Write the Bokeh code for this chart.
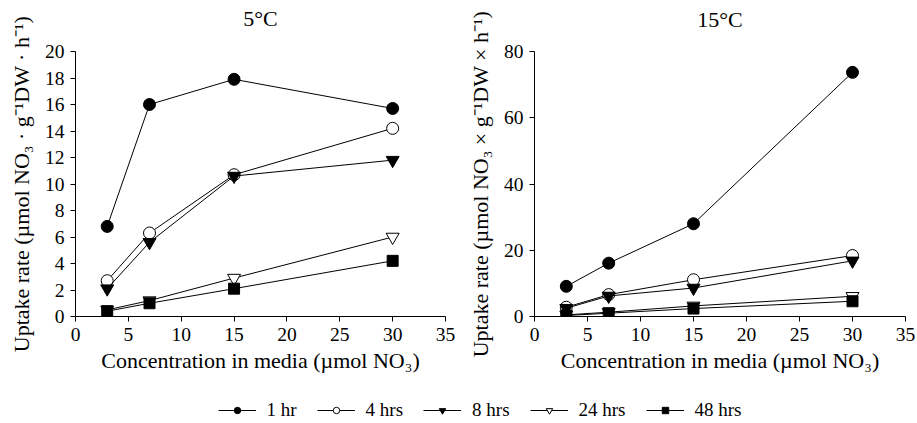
from bokeh.plotting import figure
from bokeh.layouts import column, row
from bokeh.models import Legend, LegendItem, ColumnDataSource, Title
from bokeh.embed import file_html
from bokeh.resources import INLINE

conc = [3, 7, 15, 30]
series = ["1 hr", "4 hrs", "8 hrs", "24 hrs", "48 hrs"]
c5_1hr = [6.8, 16.0, 17.9, 15.7]
c5_4hrs = [2.7, 6.3, 10.7, 14.2]
c5_8hrs = [2.1, 5.6, 10.6, 11.8]
c5_24hrs = [0.5, 1.2, 2.9, 6.0]
c5_48hrs = [0.4, 1.0, 2.1, 4.2]
c15_1hr = [9.1, 16.1, 28.0, 73.7]
c15_4hrs = [2.8, 6.6, 11.1, 18.4]
c15_8hrs = [2.5, 6.2, 8.6, 16.8]
c15_24hrs = [0.5, 1.3, 3.2, 6.1]
c15_48hrs = [0.3, 1.0, 2.4, 4.6]
x_ticks = [0, 5, 10, 15, 20, 25, 30, 35]
y5_ticks = [0, 2, 4, 6, 8, 10, 12, 14, 16, 18, 20]
y15_ticks = [0, 20, 40, 60, 80]

FONT = "Liberation Serif"
styles = [
    dict(marker="circle", fill_color="black", size=12),
    dict(marker="circle", fill_color="white", size=12),
    dict(marker="inverted_triangle", fill_color="black", size=13),
    dict(marker="inverted_triangle", fill_color="white", size=13),
    dict(marker="square", fill_color="black", size=11),
]


def make_plot(title, data, yr, yticks, ylabel, width, bl, br, bt, bb, tso, gap):
    p = figure(width=width, height=397, x_range=(0, 35), y_range=yr,
               output_backend="svg", toolbar_location=None,
               min_border_left=bl, min_border_right=br, min_border_top=bt,
               min_border_bottom=bb, title=title)
    p.title.align = "center"
    p.title.vertical_align = "top"
    p.title.standoff = tso
    p.title.text_font = FONT
    p.title.text_font_size = "22px"
    p.title.text_font_style = "normal"
    p.title.text_color = "black"
    # blank spacer between the title and the plot frame
    p.add_layout(Title(text=" ", text_font_size="1px", standoff=gap), "above")
    p.outline_line_color = None
    p.xgrid.visible = False
    p.ygrid.visible = False
    p.xaxis.ticker = x_ticks
    p.yaxis.ticker = yticks
    for ax in (p.xaxis, p.yaxis):
        ax.axis_line_color = "black"
        ax.major_tick_line_color = "black"
        ax.minor_tick_line_color = None
        ax.major_tick_in = 0
        ax.major_tick_out = 5
        ax.major_label_text_font = FONT
        ax.major_label_text_font_size = "19.5px"
        ax.major_label_text_color = "black"
        ax.axis_label_text_font = FONT
        ax.axis_label_text_font_size = "22px"
        ax.axis_label_text_font_style = "normal"
        ax.axis_label_text_color = "black"
    p.xaxis.axis_label = "Concentration in media (\u00b5mol NO\u2083)"
    p.xaxis.axis_label_standoff = 4
    p.yaxis.axis_label = ylabel
    p.yaxis.axis_label_standoff = 8
    p.xaxis.major_label_standoff = 6
    p.yaxis.major_label_standoff = 6
    for ys, st in zip(data, styles):
        src = ColumnDataSource(dict(x=conc, y=ys))
        p.line("x", "y", source=src, line_color="black", line_width=1)
        p.scatter("x", "y", source=src, marker=st["marker"], size=st["size"],
                  fill_color=st["fill_color"], line_color="black", line_width=1)
    return p


p1 = make_plot("5\u00b0C", [c5_1hr, c5_4hrs, c5_8hrs, c5_24hrs, c5_48hrs], (0, 20), y5_ticks,
               "Uptake rate (\u00b5mol NO\u2083 \u00b7 g\u207b\u00b9DW \u00b7 h\u207b\u00b9)",
               460, 75, 15, 51, 80, 10, 11)
p2 = make_plot("15\u00b0C", [c15_1hr, c15_4hrs, c15_8hrs, c15_24hrs, c15_48hrs], (0, 80), y15_ticks,
               "Uptake rate (\u00b5mol NO\u2083 \u00d7 g\u207b\u00b9DW \u00d7 h\u207b\u00b9)",
               457, 74, 12, 49, 81, 6, 12)

# legend strip (its dummy points lie outside the visible range)
pl = figure(width=917, height=26, output_backend="svg", toolbar_location=None,
            min_border=0, min_border_left=42, x_range=(0, 1), y_range=(0, 1))
pl.axis.visible = False
pl.xgrid.visible = False
pl.ygrid.visible = False
pl.outline_line_color = None
items = []
for name, st in zip(series, styles):
    src = ColumnDataSource(dict(x=[-5], y=[-5]))
    r1 = pl.line("x", "y", source=src, line_color="black", line_width=1)
    r2 = pl.scatter("x", "y", source=src, marker=st["marker"], size=st["size"] - 3,
                    fill_color=st["fill_color"], line_color="black", line_width=1)
    items.append(LegendItem(label=name, renderers=[r1, r2]))
leg = Legend(items=items, orientation="horizontal", location="center",
             label_text_font=FONT, label_text_font_size="19px", label_text_color="black",
             glyph_width=38, glyph_height=16, spacing=20, label_standoff=11,
             background_fill_alpha=0, border_line_color=None, padding=0, margin=0)
pl.add_layout(leg, "center")

layout = column(row(p1, p2), pl)
open("out.html", "w").write(file_html(layout, INLINE))
